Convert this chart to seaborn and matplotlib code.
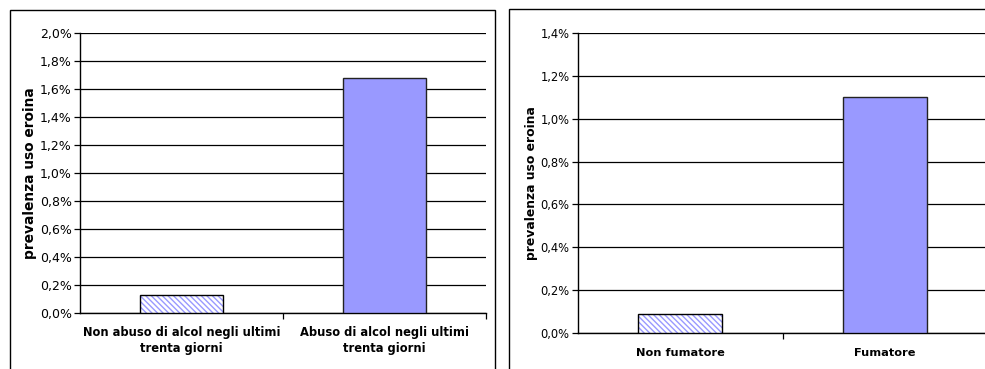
import matplotlib
matplotlib.use("Agg")
import matplotlib.pyplot as plt
import seaborn as sns
import pandas as pd
from matplotlib.patches import Rectangle
from matplotlib.ticker import FuncFormatter, MultipleLocator
from matplotlib.colors import to_rgba

# ---- data ----
alcol_categories = ["Non abuso di alcol negli ultimi\ntrenta giorni",
                    "Abuso di alcol negli ultimi\ntrenta giorni"]
alcol_values = [0.13, 1.68]          # percent
fumo_categories = ["Non fumatore", "Fumatore"]
fumo_values = [0.09, 1.10]           # percent
y_label = "prevalenza uso eroina"

sns.set_theme(style="white")
plt.rcParams['font.family'] = ['DejaVu Sans']

W, H = 985, 369
fig = plt.figure(figsize=(W / 100, H / 100), dpi=100)

BAR = "#9999FF"


def pct(v, _):
    return f"{v:.1f}%".replace(".", ",")


def draw(ax, cats, vals, ymax, fs_tick, fs_lab, fs_y, pad):
    df = pd.DataFrame({"cat": cats, "val": vals})
    sns.barplot(data=df, x="cat", y="val", ax=ax, color=BAR, width=0.41,
                saturation=1, edgecolor="#222222", linewidth=1.0, zorder=3)
    # first bar hatched
    p0 = ax.patches[0]
    p0.set_facecolor("white")
    p0.set_hatch("\\\\\\\\\\\\")
    p0.set_edgecolor("black")
    p0._hatch_color = to_rgba(BAR)
    ax.set_ylim(0, ymax)
    ax.set_xlim(-0.5, 1.5)
    ax.yaxis.set_major_locator(MultipleLocator(0.2))
    ax.yaxis.set_major_formatter(FuncFormatter(pct))
    ax.grid(axis="y", color="black", linewidth=0.9, zorder=0)
    ax.set_axisbelow(True)
    for s in ["top", "right"]:
        ax.spines[s].set_visible(False)
    for s in ["left", "bottom"]:
        ax.spines[s].set_color("black")
        ax.spines[s].set_linewidth(1.0)
    ax.tick_params(axis="y", which="both", left=True, length=4, width=0.9,
                   color="black", labelsize=fs_tick, pad=2, labelcolor="black")
    ax.set_xticks([0, 1])
    ax.set_xticklabels(cats, fontsize=fs_lab, fontweight="bold", color="black",
                       linespacing=1.3)
    ax.tick_params(axis="x", which="major", length=0, pad=pad)
    ax.set_xticks([0.5, 1.5], minor=True)
    ax.tick_params(axis="x", which="minor", bottom=True, length=4, width=0.9,
                   color="black")
    ax.set_xlabel("")
    ax.set_ylabel(y_label, fontsize=fs_y, fontweight="bold", color="black",
                  labelpad=2)


ax1 = fig.add_axes([80 / W, 1 - 313 / H, 406 / W, 280 / H])
draw(ax1, alcol_categories, alcol_values, 2.0, 9, 8.3, 9.9, 9.5)

ax2 = fig.add_axes([578 / W, 1 - 333 / H, 409 / W, 300 / H])
draw(ax2, fumo_categories, fumo_values, 1.4, 8.3, 8.2, 8.9, 10.5)

# outer chart-area frames
fig.add_artist(Rectangle((10 / W, -0.05), 485 / W, 1.05 - 10 / H,
                         transform=fig.transFigure, fill=False,
                         edgecolor="black", linewidth=1.0))
fig.add_artist(Rectangle((509 / W, -0.05), 500 / W, 1.05 - 9 / H,
                         transform=fig.transFigure, fill=False,
                         edgecolor="black", linewidth=1.0))

fig.savefig("out.png", dpi=100)
